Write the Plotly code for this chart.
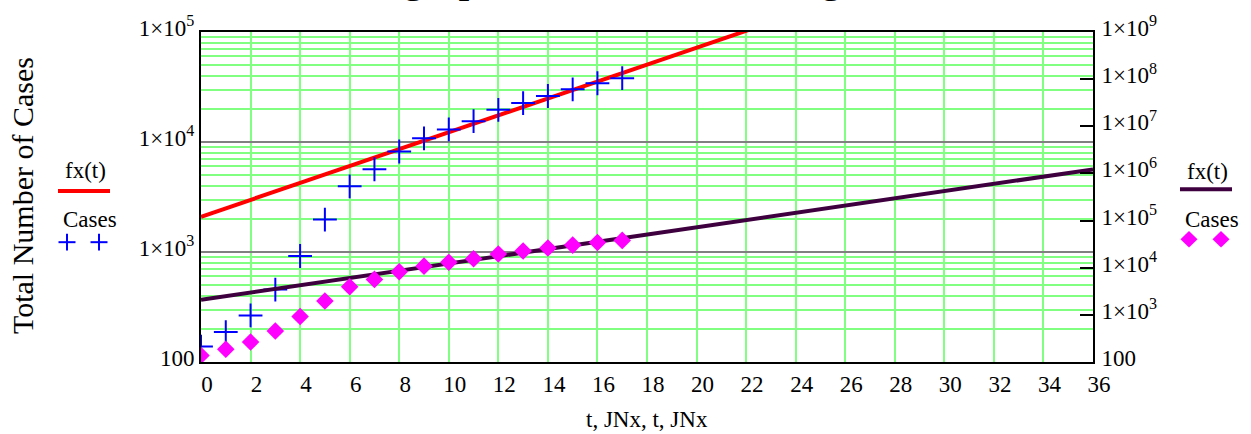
import plotly.graph_objects as go

# ---- data ----
t_days = list(range(18))
cases = [138, 187, 265, 455, 920, 1970, 3950, 5650, 8200, 10800, 13000,
         15450, 19600, 22600, 26200, 30150, 34200, 38000]
fx_t = [0, 36]
fx_vals = [2090, 1.22e6]

x_ticks = list(range(0, 37, 2))
left_tickvals = [100, 1e3, 1e4, 1e5]
left_ticktext = ["100", "1×10<sup>3</sup>", "1×10<sup>4</sup>", "1×10<sup>5</sup>"]
right_tickvals = [10 ** k for k in range(2, 10)]
right_ticktext = ["100"] + ["1×10<sup>%d</sup>" % k for k in range(3, 10)]
left_minor = [m * 10 ** k for k in range(2, 5) for m in range(2, 10)]

FONT = "Liberation Serif"
GREEN = "#80FF80"
RED = "#FF0000"
PURPLE = "#3F003F"
BLUE = "#0000FF"
MAGENTA = "#FF00FF"

fig = go.Figure()

fig.add_trace(go.Scatter(x=fx_t, y=fx_vals, mode="lines", line=dict(color=RED, width=4),
                         xaxis="x", yaxis="y", showlegend=False))
fig.add_trace(go.Scatter(x=t_days, y=cases, mode="markers",
                         marker=dict(symbol="cross-thin", size=17, line=dict(color=BLUE, width=2)),
                         xaxis="x", yaxis="y", showlegend=False))
fig.add_trace(go.Scatter(x=fx_t, y=fx_vals, mode="lines", line=dict(color=PURPLE, width=4),
                         xaxis="x", yaxis="y2", showlegend=False))
fig.add_trace(go.Scatter(x=t_days, y=cases, mode="markers",
                         marker=dict(symbol="diamond", size=13.5, color=MAGENTA),
                         xaxis="x", yaxis="y2", showlegend=False))

L, R, T, B = 201, 158, 26, 72
W, H = 1251, 434
pw, ph = W - L - R, H - T - B


def px(xp):
    return (xp - L) / pw


def py(yp):
    return (H - B - yp) / ph


tick_font = dict(family=FONT, size=23, color="black")

fig.update_layout(
    width=W, height=H,
    margin=dict(l=L, r=R, t=T, b=B),
    paper_bgcolor="white", plot_bgcolor="white",
    font=dict(family=FONT, color="black"),
    xaxis=dict(range=[0, 36], tickvals=x_ticks, showgrid=True, gridcolor=GREEN, gridwidth=2,
               zeroline=False, showline=True, linecolor="black", linewidth=2, mirror=True,
               ticks="", tickfont=tick_font, ticklabelshift=6, ticklabelstandoff=0),
    yaxis=dict(type="log", range=[2, 5], tickvals=left_tickvals, ticktext=left_ticktext,
               showgrid=True, gridcolor="#808080", gridwidth=2, zeroline=False,
               showline=True, linecolor="black", linewidth=2, mirror=True, ticks="",
               tickfont=tick_font, ticklabelshift=-4, ticklabelstandoff=0,
               minor=dict(tickvals=left_minor, showgrid=True, gridcolor=GREEN, gridwidth=2, ticks="")),
    yaxis2=dict(type="log", range=[2, 9], overlaying="y", side="right", tickvals=right_tickvals,
                ticktext=right_ticktext, showgrid=False, zeroline=False, showline=True,
                linecolor="black", linewidth=2, ticks="inside", ticklen=13, tickwidth=2,
                tickcolor="black", tickfont=tick_font, ticklabelshift=-4, ticklabelstandoff=2),
    showlegend=False,
)

shapes = [
    dict(type="line", xref="paper", yref="paper", x0=px(58), x1=px(110), y0=py(188), y1=py(188),
         line=dict(color=RED, width=4)),
    dict(type="line", xref="paper", yref="paper", x0=px(1180), x1=px(1232), y0=py(186), y1=py(186),
         line=dict(color=PURPLE, width=4)),
]
# legend symbols (crosses and diamonds)
for cx in (67, 99):
    cy = 240
    shapes.append(dict(type="line", xref="paper", yref="paper", x0=px(cx - 8.5), x1=px(cx + 8.5),
                       y0=py(cy), y1=py(cy), line=dict(color=BLUE, width=2)))
    shapes.append(dict(type="line", xref="paper", yref="paper", x0=px(cx), x1=px(cx),
                       y0=py(cy - 8.5), y1=py(cy + 8.5), line=dict(color=BLUE, width=2)))
for cx in (1189, 1221):
    cy, r = 237, 8.5
    path = "M %f,%f L %f,%f L %f,%f L %f,%f Z" % (
        px(cx - r), py(cy), px(cx), py(cy - r), px(cx + r), py(cy), px(cx), py(cy + r))
    shapes.append(dict(type="path", xref="paper", yref="paper", path=path,
                       fillcolor=MAGENTA, line=dict(width=0)))
fig.update_layout(shapes=shapes)

ann = [
    dict(text="fx(t)", x=px(85), y=py(167)),
    dict(text="Cases", x=px(90), y=py(217)),
    dict(text="fx(t)", x=px(1207), y=py(168)),
    dict(text="Cases", x=px(1212), y=py(217)),
]
annotations = []
for a in ann:
    annotations.append(dict(text=a["text"], x=a["x"], y=a["y"], xref="paper", yref="paper",
                            showarrow=False, xanchor="center", yanchor="middle",
                            font=dict(family=FONT, size=23, color="black")))
annotations.append(dict(text="Total Number of Cases", x=px(22), y=py(193), xref="paper", yref="paper",
                        showarrow=False, textangle=-90, xanchor="center", yanchor="middle",
                        font=dict(family=FONT, size=30, color="black")))
annotations.append(dict(text="t, JNx, t, JNx", x=px(647), y=py(421), xref="paper", yref="paper",
                        showarrow=False, xanchor="center", yanchor="middle",
                        font=dict(family=FONT, size=23, color="black")))
annotations.append(dict(text="Growth graph of Total Cases, log scale", x=px(255), y=py(-29),
                        xref="paper", yref="paper", showarrow=False, xanchor="left", yanchor="middle",
                        font=dict(family=FONT, size=44, color="black")))
fig.update_layout(annotations=annotations)

fig.write_html("out.html")
